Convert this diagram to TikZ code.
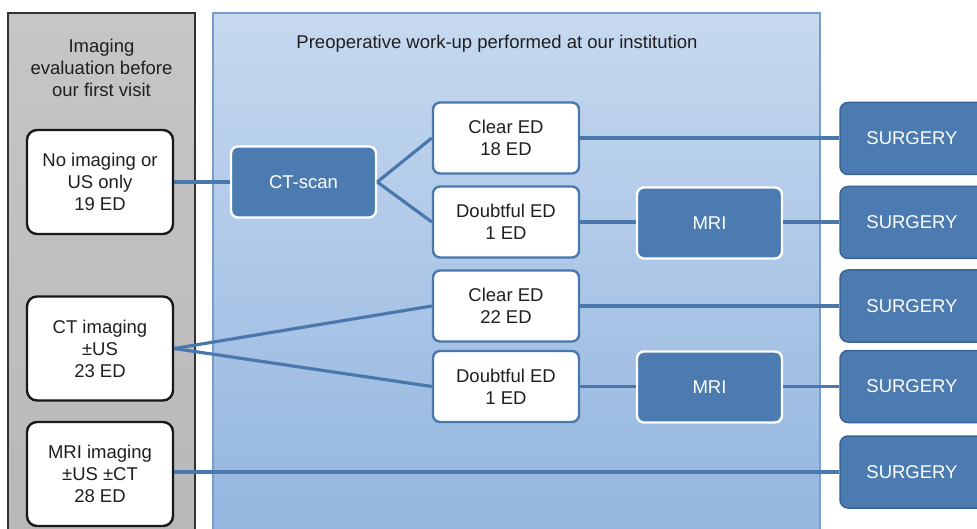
\documentclass[tikz,border=0pt]{standalone}
\usepackage{fontspec}
\setmainfont{Liberation Sans}
\definecolor{linkblue}{HTML}{4A78AD}
\definecolor{boxblue}{HTML}{4B7BB1}
\definecolor{boxedge}{HTML}{3A6494}
\definecolor{paneltop}{HTML}{C6D9EF}
\definecolor{panelbot}{HTML}{93B5DF}
\definecolor{paneledge}{HTML}{7A9CC8}
\definecolor{greytop}{HTML}{C6C6C6}
\definecolor{greybot}{HTML}{B8B8B8}
\begin{document}
\begin{tikzpicture}[x=1pt,y=-1pt,
  txt/.style={font=\fontsize{18.5}{22}\selectfont, align=center, text=black!88},
  leftbox/.style={txt, draw=black!90, line width=2.4pt, fill=white, rounded corners=10pt,
    minimum width=146pt, minimum height=104pt, inner sep=0pt},
  stepbox/.style={txt, draw=linkblue, line width=2.4pt, fill=white, rounded corners=7pt,
    minimum width=146pt, minimum height=71pt, inner sep=0pt},
  darkbox/.style={txt, text=white, draw=white, line width=2.4pt, fill=boxblue, rounded corners=7pt,
    minimum width=145pt, minimum height=71pt, inner sep=0pt},
  surgbox/.style={txt, text=white, draw=boxedge, line width=1.5pt, fill=boxblue, rounded corners=8pt,
    minimum width=150pt, minimum height=72pt, inner sep=0pt},
  link/.style={draw=linkblue, line width=3.2pt}]
\useasboundingbox (0,0) rectangle (977,529);

% panels
\shade[top color=greytop, bottom color=greybot] (8,13) rectangle (195,535);
\draw[black!80, line width=1.2pt] (8,535) -- (8,13) -- (195,13) -- (195,535);
\shade[top color=paneltop, bottom color=panelbot] (213,13) rectangle (820,535);
\draw[paneledge, line width=1.2pt] (213,535) -- (213,13) -- (820,13) -- (820,535);

\node[txt] (lefttitle) at (101.5,68) {Imaging\\evaluation before\\our first visit};
\node[txt] (righttitle) at (497,44) {Preoperative work-up performed at our institution};

% boxes in the grey panel
\node[leftbox] (none) at (100,182) {No imaging or\\US only\\19 ED};
\node[leftbox] (ctimg) at (100,348.5) {CT imaging\\±US\\23 ED};
\node[leftbox] (mriimg) at (100,474) {MRI imaging\\±US ±CT\\28 ED};

% work-up boxes
\node[darkbox] (ctscan) at (303.5,182) {CT-scan};
\node[stepbox] (clearA) at (506,138) {Clear ED\\18 ED};
\node[stepbox] (doubtA) at (506,222) {Doubtful ED\\1 ED};
\node[darkbox] (mriA) at (709.5,223) {MRI};
\node[stepbox] (clearB) at (506,306) {Clear ED\\22 ED};
\node[stepbox] (doubtB) at (506,386.5) {Doubtful ED\\1 ED};
\node[darkbox] (mriB) at (709.5,387) {MRI};

% surgery boxes (running off the right edge)
\node[surgbox] (s1) at (915,138.5) {\hspace*{-6pt}SURGERY};
\node[surgbox] (s2) at (915,222.5) {\hspace*{-6pt}SURGERY};
\node[surgbox] (s3) at (915,306) {\hspace*{-6pt}SURGERY};
\node[surgbox] (s4) at (915,386.5) {\hspace*{-6pt}SURGERY};
\node[surgbox] (s5) at (915,472) {\hspace*{-6pt}SURGERY};

% connectors
\path[link] (none.east) -- (ctscan.west);
\path[link] (ctscan.east) -- (clearA.west);
\path[link] (ctscan.east) -- (doubtA.west);
\path[link] (clearA.east) -- (s1.west |- clearA.east);
\path[link] (doubtA.east) -- (mriA.west |- doubtA.east);
\path[link] (mriA.east |- doubtA.east) -- (s2.west |- doubtA.east);
\path[link] (ctimg.east) -- (clearB.west);
\path[link] (ctimg.east) -- (doubtB.west);
\path[link] (clearB.east) -- (s3.west |- clearB.east);
\path[link] (doubtB.east) -- (mriB.west |- doubtB.east);
\path[link] (mriB.east |- doubtB.east) -- (s4.west |- doubtB.east);
\path[link] (mriimg.east |- s5.west) -- (s5.west);
\end{tikzpicture}
\end{document}
